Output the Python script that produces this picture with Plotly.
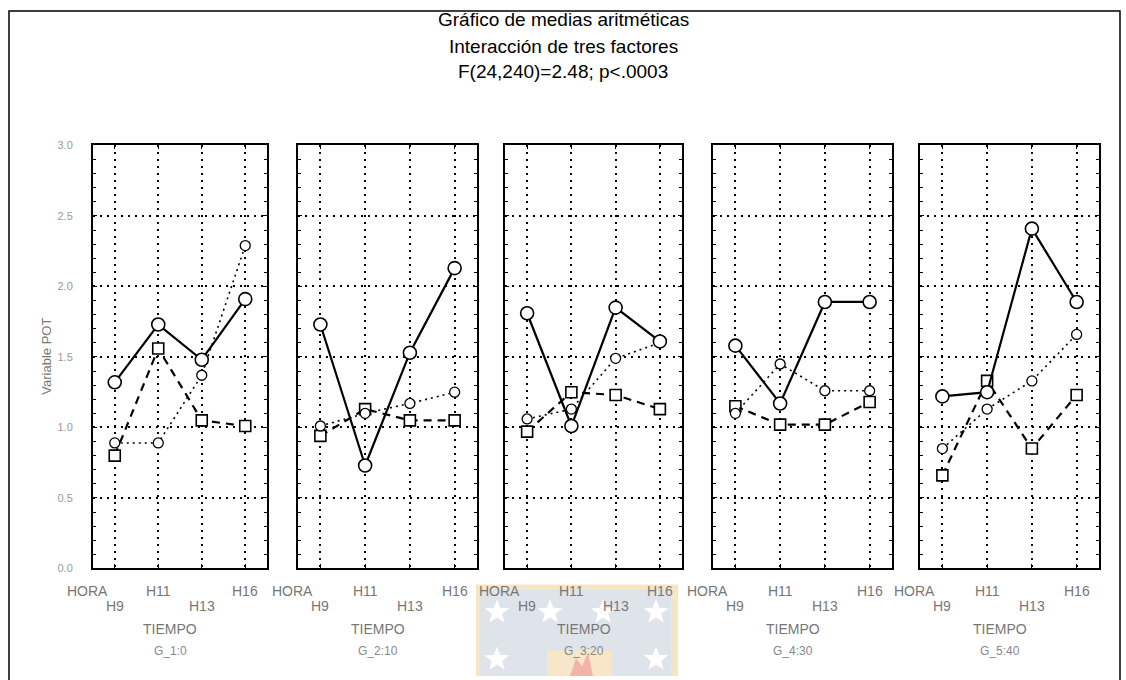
import math
import plotly.graph_objects as go

W, H = 1126, 680

title_lines = ["Gráfico de medias aritméticas",
               "Interacción de tres factores",
               "F(24,240)=2.48; p<.0003"]
groups = ["G_1:0", "G_2:10", "G_3:20", "G_4:30", "G_5:40"]
horas = ["H9", "H11", "H13", "H16"]
factor_label = "HORA"
x_title = "TIEMPO"
y_title = "Variable POT"
y_tickvals = [0.0, 0.5, 1.0, 1.5, 2.0, 2.5, 3.0]
y_ticktext = ["0.0", "0.5", "1.0", "1.5", "2.0", "2.5", "3.0"]

# series values per group (H9, H11, H13, H16)
solid_circles = [
    [1.32, 1.73, 1.48, 1.91],
    [1.73, 0.73, 1.53, 2.13],
    [1.81, 1.01, 1.85, 1.61],
    [1.58, 1.17, 1.89, 1.89],
    [1.22, 1.25, 2.41, 1.89],
]
dotted_circles = [
    [0.89, 0.89, 1.37, 2.29],
    [1.01, 1.10, 1.17, 1.25],
    [1.06, 1.13, 1.49, 1.60],
    [1.10, 1.45, 1.26, 1.26],
    [0.85, 1.13, 1.33, 1.66],
]
dashed_squares = [
    [0.80, 1.56, 1.05, 1.01],
    [0.94, 1.13, 1.05, 1.05],
    [0.97, 1.25, 1.23, 1.13],
    [1.15, 1.02, 1.02, 1.18],
    [0.66, 1.33, 0.85, 1.23],
]

# ---- layout geometry (pixels) ----
panels_px = [(93, 267), (298, 477), (505, 682), (713, 892), (920, 1099)]
top_px, bot_px = 142, 572.5


def px_x(p):
    return p / W


def px_y(p):
    return 1 - p / H


FONT = "Arial, Liberation Sans, sans-serif"
fig = go.Figure()

layout = dict(
    width=W, height=H,
    margin=dict(l=0, r=0, t=0, b=0),
    paper_bgcolor="white", plot_bgcolor="white",
    showlegend=False,
    font=dict(family=FONT, color="black"),
)

annotations = []
shapes = []

# ---- watermark logo (background decoration) ----
shapes.append(dict(type="rect", xref="paper", yref="paper", layer="below",
                   x0=px_x(476), x1=px_x(678), y0=px_y(682), y1=px_y(589),
                   fillcolor="#f6e7c4", line=dict(width=0)))
shapes.append(dict(type="rect", xref="paper", yref="paper", layer="below",
                   x0=px_x(480), x1=px_x(671), y0=px_y(682), y1=px_y(594),
                   fillcolor="#dfe4eb", line=dict(width=0)))
shapes.append(dict(type="rect", xref="paper", yref="paper", layer="below",
                   x0=px_x(547), x1=px_x(612), y0=px_y(682), y1=px_y(656),
                   fillcolor="#f8e6c9", line=dict(width=0)))


def star_path(cx, cy, r):
    pts = []
    for k in range(10):
        ang = -math.pi / 2 + k * math.pi / 5
        rr = r if k % 2 == 0 else r * 0.42
        pts.append((px_x(cx + rr * math.cos(ang)), px_y(cy + rr * math.sin(ang))))
    return "M " + " L ".join(f"{a:.5f},{b:.5f}" for a, b in pts) + " Z"


for cx, cy in [(497, 617), (550, 617), (603, 617), (656, 617), (497, 665), (656, 665)]:
    shapes.append(dict(type="path", xref="paper", yref="paper", layer="below",
                       path=star_path(cx, cy, 13), fillcolor="white", line=dict(width=0)))
shapes.append(dict(type="path", xref="paper", yref="paper", layer="below",
                   path=f"M {px_x(570)},{px_y(682)} L {px_x(576)},{px_y(664)} L {px_x(582)},{px_y(672)} "
                        f"L {px_x(588)},{px_y(658)} L {px_x(593)},{px_y(682)} Z",
                   fillcolor="#f3b3a8", line=dict(width=0)))

# ---- outer frame ----
shapes.append(dict(type="path", xref="paper", yref="paper",
                   path=f"M {px_x(9)},{px_y(690)} L {px_x(9)},{px_y(5)} L {px_x(1120)},{px_y(5)} L {px_x(1120)},{px_y(690)}",
                   line=dict(color="black", width=1.5)))

# ---- titles ----
for t, yp in zip(title_lines, [14, 41, 67]):
    annotations.append(dict(text=t, xref="paper", yref="paper", x=px_x(563), y=px_y(yp),
                            showarrow=False, xanchor="center", yanchor="middle",
                            font=dict(size=19, color="black", family=FONT)))

# y axis title
annotations.append(dict(text=y_title, xref="paper", yref="paper", x=px_x(47), y=px_y(357),
                        showarrow=False, textangle=-90, xanchor="center", yanchor="middle",
                        font=dict(size=13, color="#777", family=FONT)))

xpos = list(range(len(horas)))
lab_font = dict(size=14, color="#777", family=FONT)
for g in range(len(groups)):
    n = "" if g == 0 else str(g + 1)
    xa, ya = "x" + n, "y" + n
    x0, x1 = panels_px[g]
    layout["xaxis" + n] = dict(
        domain=[px_x(x0), px_x(x1)], range=[-0.5, 3.5], anchor=ya,
        tickvals=xpos, showticklabels=False,
        showgrid=True, gridcolor="black", griddash="2px,5px", gridwidth=1.5,
        showline=True, linecolor="black", linewidth=2, mirror="ticks",
        ticks="inside", ticklen=4, tickcolor="black",
        zeroline=False, fixedrange=True,
    )
    layout["yaxis" + n] = dict(
        domain=[px_y(bot_px), px_y(top_px)], range=[0, 3], anchor=xa,
        tickvals=y_tickvals, ticktext=y_ticktext, showticklabels=(g == 0),
        tickfont=dict(size=11, color="#999", family=FONT), ticklabelstandoff=16,
        showgrid=True, gridcolor="black", griddash="2px,5px", gridwidth=1.5,
        showline=True, linecolor="black", linewidth=2, mirror="ticks",
        ticks="inside", ticklen=4, tickcolor="black",
        minor=dict(dtick=0.1, ticks="inside", ticklen=3, tickcolor="black", showgrid=False),
        zeroline=False, fixedrange=True,
    )

    fig.add_trace(go.Scatter(
        x=xpos, y=dashed_squares[g], xaxis=xa, yaxis=ya, mode="lines+markers",
        line=dict(color="black", width=2.2, dash="8px,6px"),
        marker=dict(symbol="square", size=11, color="white", line=dict(color="black", width=1.6)),
        cliponaxis=False, hoverinfo="skip"))
    fig.add_trace(go.Scatter(
        x=xpos, y=dotted_circles[g], xaxis=xa, yaxis=ya, mode="lines+markers",
        line=dict(color="black", width=1.6, dash="2px,4px"),
        marker=dict(symbol="circle", size=10, color="white", line=dict(color="black", width=1.3)),
        cliponaxis=False, hoverinfo="skip"))
    fig.add_trace(go.Scatter(
        x=xpos, y=solid_circles[g], xaxis=xa, yaxis=ya, mode="lines+markers",
        line=dict(color="black", width=2.2),
        marker=dict(symbol="circle", size=13, color="white", line=dict(color="black", width=1.6)),
        cliponaxis=False, hoverinfo="skip"))

    annotations.append(dict(text=factor_label, xref="paper", yref="paper", x=px_x(x0 - 6), y=px_y(595),
                            showarrow=False, xanchor="center", yanchor="middle", font=lab_font))
    for i, h in enumerate(horas):
        yrow = 611 if i % 2 == 0 else 595
        annotations.append(dict(text=h, xref=xa, yref="paper", x=i, y=px_y(yrow),
                                showarrow=False, xanchor="center", yanchor="middle", font=lab_font))
    annotations.append(dict(text=x_title, xref=xa, yref="paper", x=1.28, y=px_y(634),
                            showarrow=False, xanchor="center", yanchor="middle", font=lab_font))
    annotations.append(dict(text=groups[g], xref=xa, yref="paper", x=1.28, y=px_y(657),
                            showarrow=False, xanchor="center", yanchor="middle",
                            font=dict(size=12, color="#888", family=FONT)))

layout["annotations"] = annotations
layout["shapes"] = shapes
fig.update_layout(**layout)
fig.write_html("out.html", config={"displayModeBar": False},
               post_script="document.body.style.margin='0';document.body.style.overflow='hidden';")
